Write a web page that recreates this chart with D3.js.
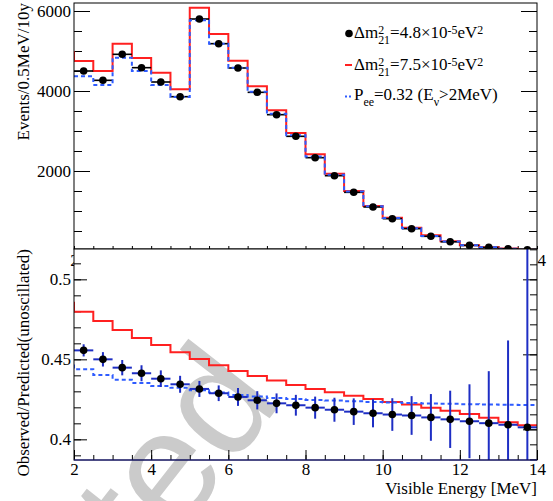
<!DOCTYPE html>
<html><head><meta charset="utf-8">
<script src="https://cdn.jsdelivr.net/npm/d3@7"></script>
<style>
body{margin:0;background:#fff}
svg text{font-family:"Liberation Serif","Times New Roman",serif}
</style>
</head><body>
<svg id="c" width="553" height="501"></svg>
<script>
// ---------------- data ----------------
const binCenters = [2.25,2.75,3.25,3.75,4.25,4.75,5.25,5.75,6.25,6.75,7.25,7.75,8.25,8.75,9.25,9.75,10.25,10.75,11.25,11.75,12.25,12.75,13.25,13.75];
const binHalfWidth = 0.25;
// top panel: events / 0.5 MeV / 10 y
const eventsData  = [4500,4267,4917,4583,4225,3858,5800,5183,4575,3967,3408,2867,2333,1883,1467,1100,808,558,367,230,140,90,55,30];
const eventsDm75  = [4750,4500,5183,4825,4458,4042,6083,5425,4758,4117,3517,2950,2417,1933,1500,1125,833,583,392,245,145,95,60,30];
const eventsPee   = [4367,4150,4833,4500,4150,3850,5767,5183,4583,3983,3434,2893,2360,1909,1490,1119,823,569,375,235,144,93,57,31];
const eventsDm75Underflow = 4975;   // bin 1.5-2.0 (only its edge is visible)
// bottom panel: observed / predicted (unoscillated)
const ratioData = [0.4556,0.4500,0.4448,0.4413,0.4379,0.4344,0.4315,0.4288,0.4265,0.4244,0.4225,0.4213,0.4198,0.4185,0.4173,0.4163,0.4155,0.4149,0.4137,0.4125,0.4113,0.4101,0.4091,0.4075];
const ratioErr  = [0.0038,0.0045,0.0048,0.0050,0.0052,0.0053,0.0050,0.0049,0.0056,0.0057,0.0062,0.0065,0.0069,0.0075,0.0083,0.0088,0.0102,0.0121,0.0146,0.0179,0.0231,0.0325,0.0527,0.15];
const ratioDm75 = [0.4798,0.4740,0.4683,0.4633,0.4590,0.4544,0.4502,0.4463,0.4427,0.4396,0.4367,0.4340,0.4315,0.4294,0.4273,0.4252,0.4233,0.4217,0.4198,0.4179,0.4158,0.4135,0.4106,0.4088];
const ratioPee  = [0.4438,0.4402,0.4373,0.4352,0.4333,0.4322,0.4306,0.4292,0.4277,0.4267,0.4258,0.4252,0.4246,0.4242,0.4238,0.4234,0.4230,0.4227,0.4224,0.4222,0.4220,0.4218,0.4216,0.4215];
const ratioDm75Underflow = 0.4854;
const ratioPeeUnderflow = 0.4479;
// axes
const xDomain = [2, 14];
const xMajorTicks = [2,4,6,8,10,12,14];
const topYDomain = [50, 6200];
const topYMajorTicks = [2000,4000,6000];
const botYDomain = [0.38708, 0.51896];
const botYMajorTicks = [0.4,0.45,0.5];
const botRightDomain = [-2.044, 12.022];
const botRightMajorTicks = [0,5,10];
const xTitle = "Visible Energy [MeV]";
const topYTitle = "Events/0.5MeV/10y";
const botYTitle = "Observed/Predicted(unoscillated)";
const watermarkText = "Accepted";
const legendRows = [
  [{s:"n",t:"Δm"},{s:"stack",t:"2",t2:"21"},{s:"n",t:"=4.8×10"},{s:"sup",t:"-5"},{s:"n",t:"eV"},{s:"sup",t:"2"}],
  [{s:"n",t:"Δm"},{s:"stack",t:"2",t2:"21"},{s:"n",t:"=7.5×10"},{s:"sup",t:"-5"},{s:"n",t:"eV"},{s:"sup",t:"2"}],
  [{s:"n",t:"P"},{s:"sub",t:"ee"},{s:"n",t:"=0.32 (E"},{s:"sub",t:"ν"},{s:"n",t:">2MeV)"}]
];

// ---------------- layout ----------------
const L = 74, R = 537, T0 = 3, T1 = 249, B0 = 249, B1 = 460;
const FS = 17;
const RED = "#ff2020", BLUE = "#2f5cff", NAVY = "#1e2ec4";

const svg = d3.select("#c");
const x = d3.scaleLinear().domain(xDomain).range([L, R]);
const yT = d3.scaleLinear().domain(topYDomain).range([T1, T0]);
const yB = d3.scaleLinear().domain(botYDomain).range([B1, B0]);
const yBR = d3.scaleLinear().domain(botRightDomain).range([B1, B0]);

const defs = svg.append("defs");
defs.append("clipPath").attr("id","clipT").append("rect").attr("x",L).attr("y",T0).attr("width",R-L).attr("height",T1-T0);
defs.append("clipPath").attr("id","clipB").append("rect").attr("x",L).attr("y",B0).attr("width",R-L).attr("height",B1-B0);

function range(a,b,s){const r=[];for(let v=a;v<=b+1e-9;v+=s)r.push(+v.toFixed(6));return r;}
function styleAxis(g){
  g.select(".domain").remove();
  g.selectAll("line").attr("stroke","#000").attr("stroke-width",1);
  g.attr("font-family",'"Liberation Serif","Times New Roman",serif').attr("font-size",FS);
  g.selectAll("text").attr("fill","#000");
}
function stepPath(centers, vals, under, ys){
  const pts = [];
  if (under != null) pts.push([x(centers[0]-3*binHalfWidth), ys(under)]);
  centers.forEach((c,i)=>pts.push([x(c-binHalfWidth), ys(vals[i])]));
  pts.push([x(centers[centers.length-1]+binHalfWidth), ys(vals[vals.length-1])]);
  return d3.line().curve(d3.curveStepAfter)(pts);
}

// ---------------- top panel ----------------
const gT = svg.append("g");
gT.append("g").attr("transform",`translate(0,${T1})`)
  .call(d3.axisBottom(x).tickValues(range(2,14,0.5)).tickSize(-3).tickFormat(""))
  .call(styleAxis);
gT.append("g").attr("transform",`translate(0,${T1})`)
  .call(d3.axisBottom(x).tickValues(xMajorTicks).tickSize(0).tickPadding(5).tickFormat(d3.format("d")))
  .call(styleAxis);
gT.append("g").attr("transform",`translate(${L},0)`)
  .call(d3.axisLeft(yT).tickValues(range(500,6000,500)).tickSize(-8).tickFormat(""))
  .call(styleAxis);
gT.append("g").attr("transform",`translate(${L},0)`)
  .call(d3.axisLeft(yT).tickValues(topYMajorTicks).tickSize(-16).tickPadding(3).tickFormat(d3.format("d")))
  .call(styleAxis);
gT.append("g").attr("transform",`translate(${R},0)`)
  .call(d3.axisRight(yT).tickValues(range(500,6000,500)).tickSize(-8).tickFormat(""))
  .call(styleAxis);
gT.append("g").attr("transform",`translate(${R},0)`)
  .call(d3.axisRight(yT).tickValues(topYMajorTicks).tickSize(-16).tickFormat(""))
  .call(styleAxis);

const gTd = gT.append("g").attr("clip-path","url(#clipT)");
gTd.append("path").attr("d",stepPath(binCenters,eventsDm75,eventsDm75Underflow,yT))
  .attr("fill","none").attr("stroke",RED).attr("stroke-width",2);
gTd.selectAll("line.hb").data(binCenters).join("line").attr("class","hb")
  .attr("x1",d=>x(d-binHalfWidth)).attr("x2",d=>x(d+binHalfWidth))
  .attr("y1",(d,i)=>yT(eventsData[i])).attr("y2",(d,i)=>yT(eventsData[i]))
  .attr("stroke","#000").attr("stroke-width",1.6);
gTd.append("path").attr("d",stepPath(binCenters,eventsPee,null,yT))
  .attr("fill","none").attr("stroke",BLUE).attr("stroke-width",2).attr("stroke-dasharray","4,3");
gTd.selectAll("circle").data(binCenters).join("circle")
  .attr("cx",d=>x(d)).attr("cy",(d,i)=>yT(eventsData[i])).attr("r",3.8).attr("fill","#000");
gT.append("rect").attr("x",L).attr("y",T0).attr("width",R-L).attr("height",T1-T0)
  .attr("fill","none").attr("stroke","#000").attr("stroke-width",1);

// legend (one text element per row, tspans for sub/superscripts)
function latexRow(g, x0, y0, parts){
  const txt = g.append("text").attr("font-size",FS);
  const small = FS*0.7;
  let cx = x0;
  parts.forEach(p=>{
    if (p.s==="n"){
      const t = txt.append("tspan").attr("x",cx).attr("y",y0).attr("font-size",FS).text(p.t);
      cx += t.node().getComputedTextLength();
    } else if (p.s==="sup"){
      const t = txt.append("tspan").attr("x",cx).attr("y",y0-4.5).attr("font-size",small).text(p.t);
      cx += t.node().getComputedTextLength();
    } else if (p.s==="sub"){
      const t = txt.append("tspan").attr("x",cx).attr("y",y0+6).attr("font-size",small).text(p.t);
      cx += t.node().getComputedTextLength();
    } else if (p.s==="stack"){
      const a = txt.append("tspan").attr("x",cx).attr("y",y0-4.5).attr("font-size",small).text(p.t);
      const b = txt.append("tspan").attr("x",cx).attr("y",y0+5.5).attr("font-size",small).text(p.t2);
      cx += Math.max(a.node().getComputedTextLength(), b.node().getComputedTextLength());
    }
  });
}
const lg = svg.append("g");
lg.append("circle").attr("cx",349).attr("cy",33.5).attr("r",3.8).attr("fill","#000");
lg.append("line").attr("x1",345).attr("x2",352).attr("y1",65).attr("y2",65).attr("stroke",RED).attr("stroke-width",2);
lg.append("line").attr("x1",345).attr("x2",353).attr("y1",96.5).attr("y2",96.5).attr("stroke",BLUE).attr("stroke-width",2).attr("stroke-dasharray","2,2");
const rowBase = [38,70,100];
legendRows.forEach((r,i)=>latexRow(lg, 354, rowBase[i], r));

svg.append("text").attr("transform",`translate(29,${T0}) rotate(-90)`)
  .attr("text-anchor","end").attr("font-size",FS).text(topYTitle);

// ---------------- bottom panel ----------------
const gB = svg.append("g");
gB.append("rect").attr("x",L).attr("y",B0).attr("width",R-L).attr("height",B1-B0).attr("fill","#fff");

gB.append("text").attr("transform","translate(284,400) rotate(-52)")
  .attr("text-anchor","end").attr("font-size",156)
  .style("font-family",'"Liberation Sans",Arial,sans-serif')
  .attr("fill","#cbcbcb").text(watermarkText);

gB.append("g").attr("transform",`translate(0,${B1})`)
  .call(d3.axisBottom(x).tickValues(range(2,14,0.5)).tickSize(-5).tickFormat(""))
  .call(styleAxis);
gB.append("g").attr("transform",`translate(0,${B1})`)
  .call(d3.axisBottom(x).tickValues(xMajorTicks).tickSize(-10).tickPadding(3).tickFormat(d3.format("d")))
  .call(styleAxis);
gB.append("g").attr("transform",`translate(${L},0)`)
  .call(d3.axisLeft(yB).tickValues(range(0.39,0.51,0.01)).tickSize(-7).tickFormat(""))
  .call(styleAxis);
gB.append("g").attr("transform",`translate(${L},0)`)
  .call(d3.axisLeft(yB).tickValues(botYMajorTicks).tickSize(-13).tickPadding(3).tickFormat(d=>String(d)))
  .call(styleAxis);
gB.append("g").attr("transform",`translate(${R},0)`)
  .call(d3.axisRight(yBR).tickValues(range(-2,12,1)).tickSize(-7).tickFormat(""))
  .call(styleAxis);
gB.append("g").attr("transform",`translate(${R},0)`)
  .call(d3.axisRight(yBR).tickValues(botRightMajorTicks).tickSize(-14).tickFormat(""))
  .call(styleAxis);

const gBd = gB.append("g").attr("clip-path","url(#clipB)");
gBd.append("path").attr("d",stepPath(binCenters,ratioDm75,ratioDm75Underflow,yB))
  .attr("fill","none").attr("stroke",RED).attr("stroke-width",2);
gBd.append("path").attr("d",stepPath(binCenters,ratioPee,ratioPeeUnderflow,yB))
  .attr("fill","none").attr("stroke",BLUE).attr("stroke-width",2).attr("stroke-dasharray","4,3");
gBd.selectAll("line.eh").data(binCenters).join("line").attr("class","eh")
  .attr("x1",d=>x(d-binHalfWidth)).attr("x2",d=>x(d+binHalfWidth))
  .attr("y1",(d,i)=>yB(ratioData[i])).attr("y2",(d,i)=>yB(ratioData[i]))
  .attr("stroke",NAVY).attr("stroke-width",2);
gBd.selectAll("line.ev").data(binCenters).join("line").attr("class","ev")
  .attr("x1",d=>x(d)).attr("x2",d=>x(d))
  .attr("y1",(d,i)=>yB(ratioData[i]-ratioErr[i])).attr("y2",(d,i)=>yB(ratioData[i]+ratioErr[i]))
  .attr("stroke",NAVY).attr("stroke-width",2);
gBd.selectAll("circle").data(binCenters).join("circle")
  .attr("cx",d=>x(d)).attr("cy",(d,i)=>yB(ratioData[i])).attr("r",3.8).attr("fill","#000");
gB.append("rect").attr("x",L).attr("y",B0).attr("width",R-L).attr("height",B1-B0)
  .attr("fill","none").attr("stroke","#000").attr("stroke-width",1);
gB.append("line").attr("x1",L).attr("x2",R).attr("y1",B1).attr("y2",B1).attr("stroke","#1a1a8c").attr("stroke-width",1.2);

svg.append("text").attr("transform",`translate(29,${B0}) rotate(-90)`)
  .attr("text-anchor","end").attr("font-size",FS).text(botYTitle);
svg.append("text").attr("x",R).attr("y",494).attr("text-anchor","end").attr("font-size",FS).text(xTitle);
</script>
</body></html>
